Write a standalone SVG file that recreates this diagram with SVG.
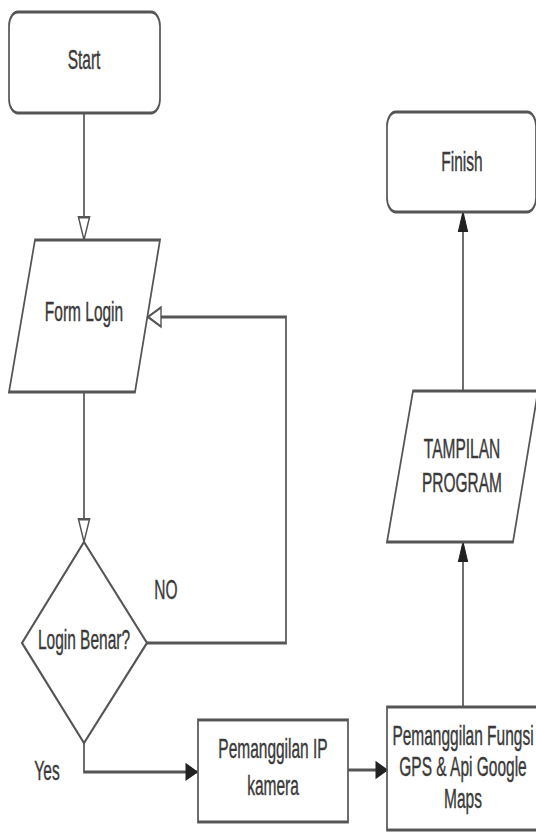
<svg xmlns="http://www.w3.org/2000/svg" width="536" height="833" viewBox="0 0 536 833">
<defs>
<style>
.shape{fill:#fff;stroke:#555;stroke-width:1.7}
.conn{fill:none;stroke:#555;stroke-width:1.7}
.t{font-family:"Liberation Sans",Arial,sans-serif;font-size:15.5px;fill:#3a3a3a;text-anchor:middle;stroke:#3a3a3a;stroke-width:0.25}
</style>
<marker id="hollow" markerUnits="userSpaceOnUse" markerWidth="16" markerHeight="14" refX="13" refY="5.5" orient="auto" overflow="visible">
<path d="M0,0 L13,5.5 L0,11 z" fill="#fff" stroke="#555" stroke-width="1.4"/>
</marker>
<marker id="solid" markerUnits="userSpaceOnUse" markerWidth="14" markerHeight="12" refX="11" refY="4.5" orient="auto" overflow="visible">
<path d="M0,0 L11,4.5 L0,9 z" fill="#222" stroke="#222" stroke-width="1"/>
</marker>
</defs>
<rect width="536" height="833" fill="#fff"/>
<g transform="scale(1,1.75)">
<g id="connectors">
<path class="conn" d="M84,64.6 V137.1" marker-end="url(#hollow)"/>
<path class="conn" d="M84,224 V309.7" marker-end="url(#hollow)"/>
<path class="conn" d="M147,367.4 H286 V181.1 H148" marker-end="url(#hollow)"/>
<path class="conn" d="M84,424.6 V441.1 H197" marker-end="url(#solid)"/>
<path class="conn" d="M348,440 H387" marker-end="url(#solid)"/>
<path class="conn" d="M463,404 V309.7" marker-end="url(#solid)"/>
<path class="conn" d="M463,223.4 V121.1" marker-end="url(#solid)"/>
<text class="t" x="166" y="342.5">NO</text>
<text class="t" x="47" y="446">Yes</text>
</g>
<g id="start">
<rect class="shape" x="9" y="6.9" width="151" height="57.7" rx="9" ry="8"/>
<text class="t" x="84" y="39.7">Start</text>
</g>
<g id="form-login">
<polygon class="shape" points="35,137.1 160,137.1 135,224 9,224"/>
<text class="t" x="84" y="183.7">Form Login</text>
</g>
<g id="login-benar">
<polygon class="shape" points="84,309.7 147,367.4 84,424.6 22,367.4"/>
<text class="t" x="84" y="371.1">Login Benar?</text>
</g>
<g id="ip-kamera">
<rect class="shape" x="198" y="411.4" width="150" height="58.3"/>
<text class="t" x="273" y="433.4">Pemanggilan IP</text>
<text class="t" x="273" y="454.5">kamera</text>
</g>
<g id="fungsi-gps">
<rect class="shape" x="387" y="404" width="150" height="70.3"/>
<text class="t" x="463" y="426">Pemanggilan Fungsi</text>
<text class="t" x="463" y="443.7">GPS &amp; Api Google</text>
<text class="t" x="463" y="462">Maps</text>
</g>
<g id="tampilan-program">
<polygon class="shape" points="413,223.4 538,223.4 513,309.7 387,309.7"/>
<text class="t" x="462" y="262">TAMPILAN</text>
<text class="t" x="462" y="281.4">PROGRAM</text>
</g>
<g id="finish">
<rect class="shape" x="387" y="64" width="149" height="57.1" rx="9" ry="8"/>
<text class="t" x="462" y="98">Finish</text>
</g>
</g>
</svg>
